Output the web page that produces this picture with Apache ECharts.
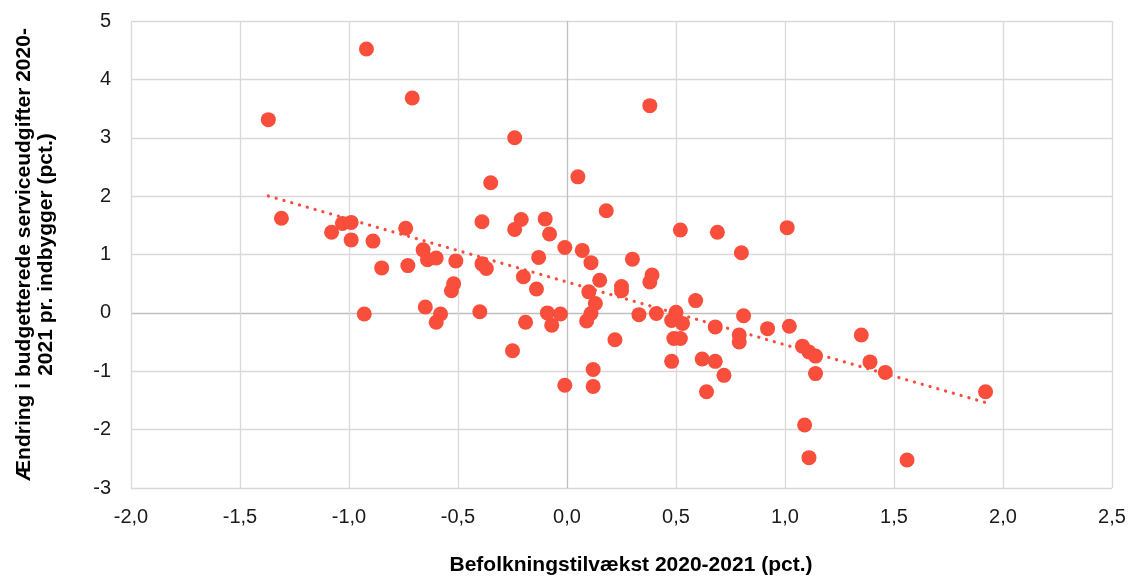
<!DOCTYPE html>
<html>
<head>
<meta charset="utf-8">
<script src="https://cdn.jsdelivr.net/npm/echarts@6/dist/echarts.min.js"></script>
<style>
  html, body { margin: 0; padding: 0; background: #fff; }
  #chart { width: 1129px; height: 578px; }
</style>
</head>
<body>
<div id="chart"></div>
<script>
// Befolkningstilvækst (x) og ændring i serviceudgifter pr. indbygger (y), én pr. kommune
let vaekst = [
  -1.37, -0.92, -0.71, -1.31, -1.08, -1.03, -0.99, -0.99, -0.89, -0.74,
  -0.85, -0.73, -0.66, -0.64, -0.60, -0.51, -0.52, -0.53, -0.93, -0.65,
  -0.58, -0.60, -0.35, 0.05, 0.18, -0.39, -0.21, -0.24, -0.10, -0.08,
  -0.01, 0.07, 0.11, -0.13, -0.39, -0.37, -0.20, -0.14, 0.15, 0.10,
  0.13, 0.11, 0.09, -0.40, -0.19, -0.09, -0.03, -0.07, 0.22, -0.24,
  0.38, 0.52, 0.69, 0.80, 1.01, 0.30, 0.39, 0.38, 0.25, 0.25,
  0.33, 0.41, 0.59, 0.50, 0.48, 0.53, 0.49, 0.52, 0.68, 0.81,
  0.79, 0.79, 0.48, 0.62, 0.68, 0.72, 0.64, 0.12, 0.12, -0.01,
  -0.25, 0.92, 1.02, 1.08, 1.11, 1.14, 1.14, 1.35, 1.39, 1.46,
  1.92, 1.09, 1.11, 1.56
];
let udgifter = [
  3.31, 4.52, 3.68, 1.62, 1.38, 1.53, 1.55, 1.25, 1.23, 1.45,
  0.77, 0.81, 1.08, 0.91, 0.94, 0.89, 0.50, 0.38, -0.02, 0.10,
  -0.02, -0.16, 2.23, 2.33, 1.75, 1.56, 1.60, 1.43, 1.61, 1.35,
  1.12, 1.07, 0.86, 0.95, 0.84, 0.76, 0.62, 0.41, 0.56, 0.36,
  0.16, -0.01, -0.14, 0.02, -0.16, 0.00, -0.02, -0.21, -0.46, 3.00,
  3.55, 1.42, 1.38, 1.03, 1.46, 0.92, 0.65, 0.53, 0.45, 0.38,
  -0.03, -0.01, 0.21, 0.01, -0.13, -0.18, -0.44, -0.44, -0.24, -0.05,
  -0.38, -0.50, -0.83, -0.79, -0.83, -1.07, -1.35, -0.97, -1.26, -1.24,
  -0.65, -0.27, -0.23, -0.57, -0.67, -0.74, -1.04, -0.38, -0.84, -1.02,
  -1.35, -1.92, -2.48, -2.52
];

let punkter = vaekst.map(function (x, i) { return [x, udgifter[i]]; });

// lineær tendenslinje (mindste kvadraters metode)
let n = vaekst.length, sx = 0, sy = 0, sxx = 0, sxy = 0;
for (let i = 0; i < n; i++) {
  sx += vaekst[i]; sy += udgifter[i];
  sxx += vaekst[i] * vaekst[i]; sxy += vaekst[i] * udgifter[i];
}
let haeldning = (n * sxy - sx * sy) / (n * sxx - sx * sx);
let skaering = (sy - haeldning * sx) / n;
let xMin = Math.min.apply(null, vaekst), xMax = Math.max.apply(null, vaekst);
let tendens = [[xMin, skaering + haeldning * xMin], [xMax, skaering + haeldning * xMax]];

let farve = '#F84E3B';
let gitter = '#d9d9d9';
let nul = '#bfbfbf';

let option = {
  animation: false,
  grid: { left: 131, right: 17, top: 21, bottom: 90, outerBoundsMode: 'none', containLabel: false },
  xAxis: {
    type: 'value',
    min: -2, max: 2.5, interval: 0.5,
    name: 'Befolkningstilvækst 2020-2021 (pct.)',
    nameLocation: 'middle',
    nameGap: 67,
    nameTextStyle: {
      fontFamily: 'Liberation Sans', fontSize: 21, fontWeight: 'bold',
      color: '#000', padding: [0, 0, 0, 19]
    },
    axisLine: { show: false },
    axisTick: { show: false },
    axisLabel: {
      margin: 19, fontFamily: 'Liberation Sans', fontSize: 20, color: '#1a1a1a',
      formatter: function (v) { return v.toFixed(1).replace('.', ','); }
    },
    splitLine: {
      lineStyle: {
        width: 1.3,
        color: [gitter, gitter, gitter, gitter, nul, gitter, gitter, gitter, gitter, gitter]
      }
    }
  },
  yAxis: {
    type: 'value',
    min: -3, max: 5, interval: 1,
    name: 'Ændring i budgetterede serviceudgifter 2020-\n2021 pr. indbygger (pct.)',
    nameLocation: 'middle',
    nameGap: 74,
    nameTextStyle: {
      fontFamily: 'Liberation Sans', fontSize: 21, fontWeight: 'bold',
      color: '#000', lineHeight: 22
    },
    axisLine: { show: false },
    axisTick: { show: false },
    axisLabel: { margin: 20, fontFamily: 'Liberation Sans', fontSize: 20, color: '#1a1a1a' },
    splitLine: {
      lineStyle: {
        width: 1.3,
        color: [gitter, gitter, gitter, nul, gitter, gitter, gitter, gitter, gitter]
      }
    }
  },
  series: [
    {
      type: 'scatter',
      data: punkter,
      symbolSize: 15,
      itemStyle: { color: farve, opacity: 1 },
      z: 2
    },
    {
      type: 'line',
      data: tendens,
      symbol: 'none',
      lineStyle: { color: farve, width: 3.2, type: [0.1, 8], cap: 'round' },
      z: 3
    }
  ]
};

var myChart = echarts.init(document.getElementById('chart'));
myChart.setOption(option, true);
</script>
</body>
</html>
